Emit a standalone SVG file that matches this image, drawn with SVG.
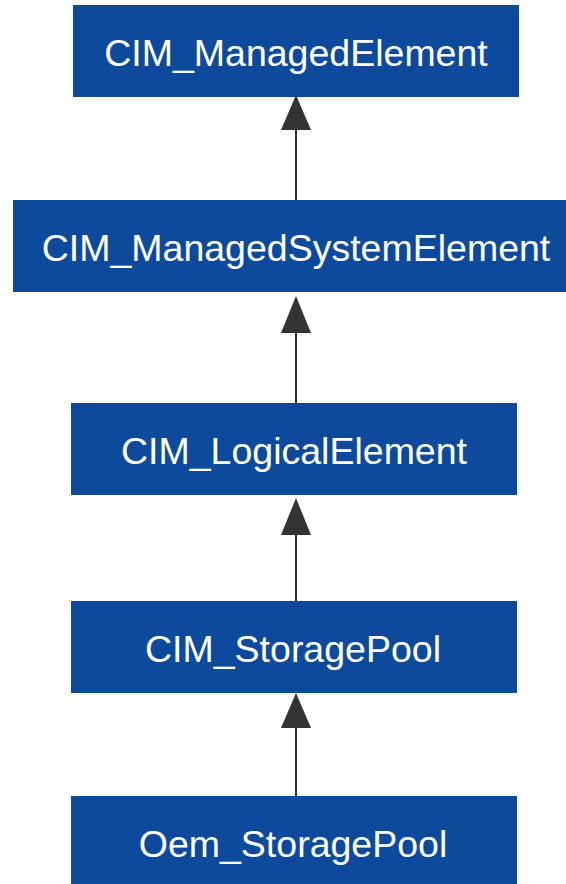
<svg xmlns="http://www.w3.org/2000/svg" width="566" height="884" viewBox="0 0 566 884">
<style>
.box{fill:#0e4a9b}
.lbl{fill:#ffffff;font-family:"Liberation Sans",Arial,sans-serif;font-size:37.5px;text-anchor:middle}
.edge{stroke:#333333;stroke-width:2;fill:none}
.head{fill:#333333}
</style>
<rect width="566" height="884" fill="#ffffff"/>
<g id="connectors">
<line class="edge" x1="296" y1="129" x2="296" y2="200"/>
<polygon class="head" points="296,95 281,130 311,130"/>
<line class="edge" x1="296" y1="333" x2="296" y2="403"/>
<polygon class="head" points="296,296 281,333 311,333"/>
<line class="edge" x1="296" y1="535" x2="296" y2="601"/>
<polygon class="head" points="296,498 281,535 311,535"/>
<line class="edge" x1="296" y1="728" x2="296" y2="796"/>
<polygon class="head" points="296,693 281,728 311,728"/>
</g>
<g id="CIM_ManagedElement">
<rect class="box" x="73" y="5" width="446" height="92"/>
<text class="lbl" x="296" y="65.5">CIM_ManagedElement</text>
</g>
<g id="CIM_ManagedSystemElement">
<rect class="box" x="13" y="200" width="566" height="92"/>
<text class="lbl" x="296" y="260.5">CIM_ManagedSystemElement</text>
</g>
<g id="CIM_LogicalElement">
<rect class="box" x="71" y="403" width="446" height="92"/>
<text class="lbl" x="294" y="463.5">CIM_LogicalElement</text>
</g>
<g id="CIM_StoragePool">
<rect class="box" x="71" y="601" width="446" height="92"/>
<text class="lbl" x="293" y="661.5">CIM_StoragePool</text>
</g>
<g id="Oem_StoragePool">
<rect class="box" x="71" y="796" width="446" height="92"/>
<text class="lbl" x="293" y="856.5">Oem_StoragePool</text>
</g>
</svg>
